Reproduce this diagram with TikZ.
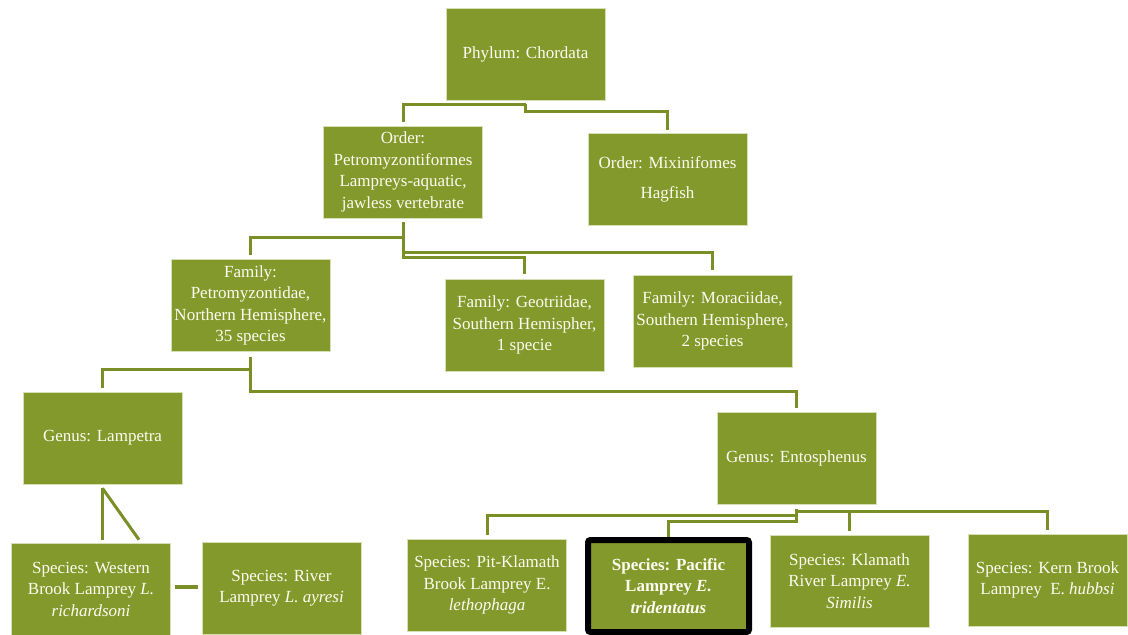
\documentclass[tikz,border=0pt]{standalone}
\usepackage{fontspec}
\setmainfont{Liberation Serif}
\definecolor{taxgreen}{RGB}{132,153,43}
\definecolor{taxedge}{RGB}{214,224,180}
\definecolor{linkgreen}{RGB}{122,143,38}
\definecolor{textcream}{RGB}{252,252,242}

\begin{document}
\begin{tikzpicture}[x=1pt, y=-1pt,
      taxon/.style={fill=taxgreen, draw=taxedge, line width=0.6pt, text=textcream,
                    align=center, minimum width=159pt, minimum height=92pt, inner sep=1pt,
                    font=\fontsize{17}{21.5}\selectfont},
      focus/.style={taxon, draw=black, line width=6pt, rounded corners=2.5pt,
                    minimum width=161pt, font=\fontsize{17}{21.5}\selectfont\bfseries},
      link/.style={draw=linkgreen, line width=3pt}]
    \useasboundingbox[fill=white] (0,0) rectangle (1128,635);
    % ranks
    \node[taxon] (phylum)  at (525.5,54)  {Phylum: Chordata};
    \node[taxon] (ordPetro) at (403,172)  {Order:\\ Petromyzontiformes\\ Lampreys-aquatic,\\ jawless vertebrate};
    \node[taxon] (ordMixi)  at (667.5,179) {Order: Mixinifomes\\[8.5pt] Hagfish};
    \node[taxon] (famPetro) at (250.5,305.5) {Family:\\ Petromyzontidae,\\ Northern Hemisphere,\\ 35 species};
    \node[taxon] (famGeo)   at (524.5,325) {Family: Geotriidae,\\ Southern Hemispher,\\ 1 specie};
    \node[taxon] (famMora)  at (712.5,321) {Family: Moraciidae,\\ Southern Hemisphere,\\ 2 species};
    \node[taxon] (genLamp)  at (102.5,438) {Genus: Lampetra};
    \node[taxon] (genEnto)  at (796.5,458) {Genus: Entosphenus};
    % species
    \node[taxon] (spWest)  at (91,589)    {Species: Western\\ Brook Lamprey \textit{L.}\\ \textit{richardsoni}};
    \node[taxon] (spRiver) at (281.5,588) {Species: River\\ Lamprey \textit{L. ayresi}};
    \node[taxon] (spPit)   at (487,585)   {Species: Pit-Klamath\\ Brook Lamprey E.\\ \textit{lethophaga}};
    \node[focus] (spPac)   at (668.5,586) {Species: Pacific\\ Lamprey \textit{E.}\\ \textit{tridentatus}};
    \node[taxon] (spKlam)  at (849.5,581) {Species: Klamath\\ River Lamprey \textit{E.}\\ \textit{Similis}};
    \node[taxon] (spKern)  at (1047.5,580) {Species: Kern Brook\\ Lamprey~~E. \textit{hubbsi}};
    % connectors
    \draw[link] ([yshift=-4pt]phylum.south) -| ([yshift=4pt]ordPetro.north);
    \draw[link] ([yshift=-4pt]phylum.south) -- ([yshift=-11pt]phylum.south) -| ([yshift=3pt]ordMixi.north);
    \draw[link] ([yshift=-4pt]ordPetro.south) -- ([yshift=-19pt]ordPetro.south) -| ([yshift=4pt]famPetro.north);
    \draw[link] ([yshift=-4pt]ordPetro.south) -- ([yshift=-34pt]ordPetro.south) -| ([yshift=5pt]famMora.north);
    \draw[link] ([yshift=-4pt]ordPetro.south) -- ([yshift=-39pt]ordPetro.south) -| ([yshift=5pt]famGeo.north);
    \draw[link] ([yshift=-5pt]famPetro.south) -- ([yshift=-18pt]famPetro.south) -| ([yshift=4pt]genLamp.north);
    \draw[link] ([yshift=-5pt]famPetro.south) -- ([yshift=-40pt]famPetro.south) -| ([yshift=4pt]genEnto.north);
    \draw[link] ([yshift=-4pt]genLamp.south) -- ([yshift=3pt]genLamp.south |- spWest.north);
    \draw[link] ([yshift=-4pt]genLamp.south) -- ([xshift=48pt,yshift=3pt]spWest.north);
    \draw[link, line width=4.5pt] ([xshift=4pt,yshift=2pt]spWest.east) -- ([xshift=-4pt,yshift=2pt]spWest.east -| spRiver.west);
    \draw[link] ([yshift=-5pt]genEnto.south) -- ([yshift=-17pt]genEnto.south) -| (spPac.north);
    \draw[link] ([yshift=-11pt]genEnto.south) -| ([yshift=4pt]spPit.north);
    \draw[link] ([yshift=-7pt]genEnto.south) -| ([yshift=4pt]spKern.north);
    \draw[link] ([yshift=-7pt]genEnto.south -| spKlam.north) -- ([yshift=4pt]spKlam.north);
  \end{tikzpicture}
\end{document}
